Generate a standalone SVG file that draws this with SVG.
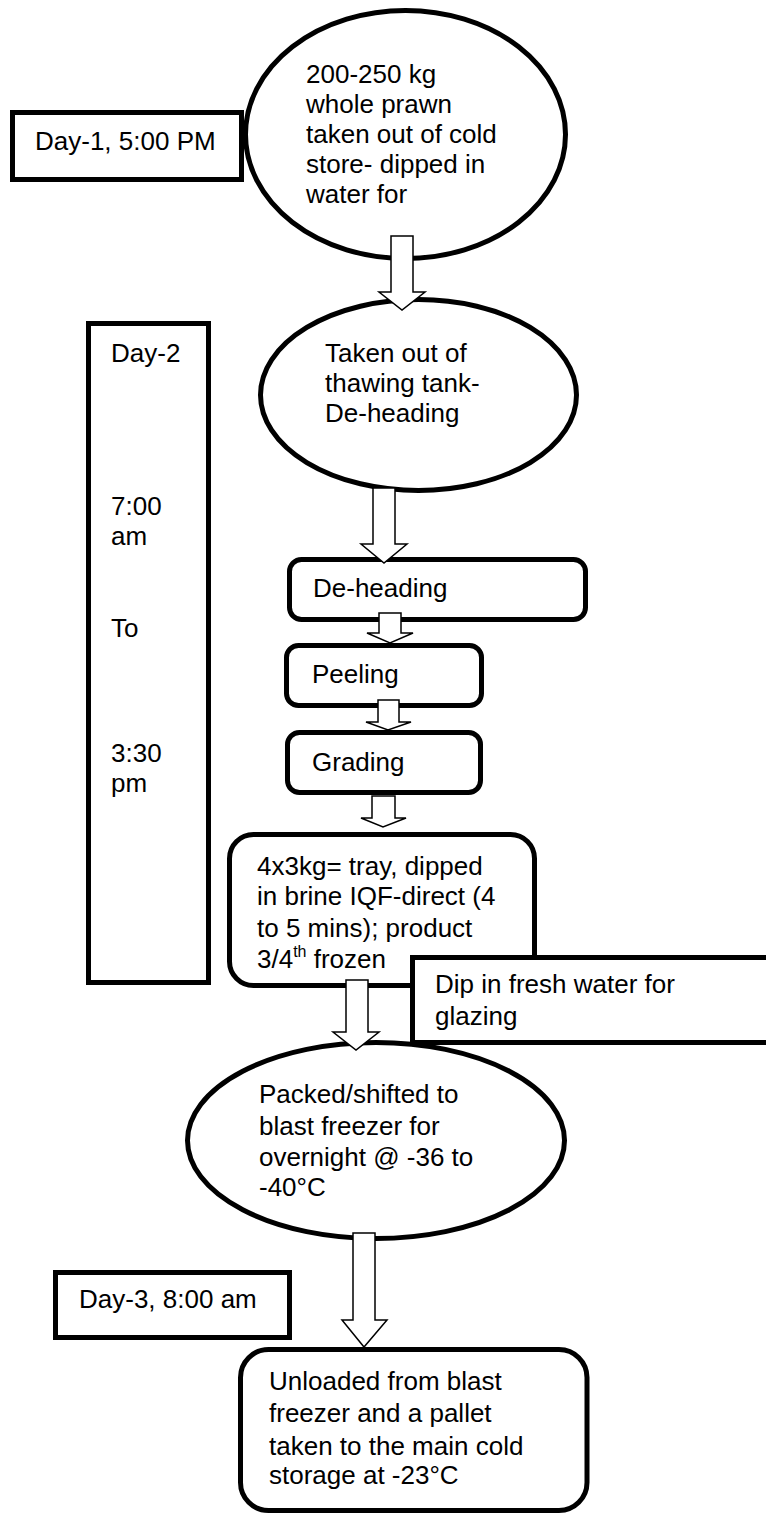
<svg xmlns="http://www.w3.org/2000/svg" width="766" height="1515" viewBox="0 0 766 1515">
<style>
.n{fill:#fff;stroke:#000;stroke-width:5}
.t{font-family:"Liberation Sans",Arial,sans-serif;font-size:26px;fill:#000}
.sup{font-size:16px}
.a{fill:#fff;stroke:#000;stroke-width:1.5;stroke-linejoin:miter}
</style>
<rect width="766" height="1515" fill="#fff"/>
<g id="nodes">
<g id="day1"><rect class="n" x="12.5" y="112.5" width="229" height="67"/><text class="t" x="35" y="150">Day-1, 5:00 PM</text></g>
<g id="n1"><ellipse class="n" cx="405.5" cy="134.5" rx="160" ry="124"/>
<text class="t" x="306" y="83">200-250 kg</text><text class="t" x="306" y="113">whole prawn</text><text class="t" x="306" y="143">taken out of cold</text><text class="t" x="306" y="173">store- dipped in</text><text class="t" x="306" y="203">water for</text></g>
<g id="day2"><rect class="n" x="88.5" y="323.5" width="120" height="659"/>
<text class="t" x="111" y="362">Day-2</text><text class="t" x="111" y="515">7:00</text><text class="t" x="111" y="545">am</text><text class="t" x="111" y="637">To</text><text class="t" x="111" y="762">3:30</text><text class="t" x="111" y="792">pm</text></g>
<g id="n2"><ellipse class="n" cx="418.5" cy="395" rx="158" ry="95.5"/>
<text class="t" x="325" y="362">Taken out of</text><text class="t" x="325" y="392">thawing tank-</text><text class="t" x="325" y="422">De-heading</text></g>
<g id="n3"><rect class="n" x="289.5" y="559.5" width="296" height="60" rx="12"/><text class="t" x="313" y="597">De-heading</text></g>
<g id="n4"><rect class="n" x="286.5" y="645.5" width="195" height="60" rx="12"/><text class="t" x="312" y="683">Peeling</text></g>
<g id="n5"><rect class="n" x="287.5" y="732.5" width="193" height="60" rx="12"/><text class="t" x="312" y="771">Grading</text></g>
<g id="n6"><rect class="n" x="229.5" y="834.5" width="305" height="151" rx="24"/>
<text class="t" x="257" y="875">4x3kg= tray, dipped</text><text class="t" x="257" y="905">in brine IQF-direct (4</text><text class="t" x="257" y="937">to 5 mins); product</text><text class="t" x="257" y="968">3/4<tspan class="sup" dy="-11">th</tspan><tspan dy="11"> frozen</tspan></text></g>
<g id="n8"><ellipse class="n" cx="376" cy="1140.5" rx="188.5" ry="98"/>
<text class="t" x="259" y="1103">Packed/shifted to</text><text class="t" x="259" y="1135">blast freezer for</text><text class="t" x="259" y="1166">overnight @ -36 to</text><text class="t" x="259" y="1196">-40°C</text></g>
<g id="n7"><rect class="n" x="412.5" y="957.5" width="400" height="85"/>
<text class="t" x="435" y="993">Dip in fresh water for</text><text class="t" x="435" y="1025">glazing</text></g>
<g id="day3"><rect class="n" x="55.5" y="1272.5" width="234" height="65"/><text class="t" x="79" y="1308">Day-3, 8:00 am</text></g>
<g id="n9"><rect class="n" x="240.5" y="1349.5" width="346.5" height="161" rx="28"/>
<text class="t" x="269" y="1390">Unloaded from blast</text><text class="t" x="269" y="1422">freezer and a pallet</text><text class="t" x="269" y="1455">taken to the main cold</text><text class="t" x="269" y="1484">storage at -23°C</text></g>
</g>
<g id="connectors">
<polygon class="a" points="391,236 413,236 413,292 425,292 402,310 379,292 391,292"/>
<polygon class="a" points="373,488 395,488 395,544 407,544 384,563 361,544 373,544"/>
<polygon class="a" points="379,613 401,613 401,633 413,633 390,643 367,633 379,633"/>
<polygon class="a" points="378,700 399,700 399,722 411,722 388,730 366,722 378,722"/>
<polygon class="a" points="372,796 395,796 395,818 406,818 383,827 361,818 372,818"/>
<polygon class="a" points="346,980 368,980 368,1032 379,1032 356,1050 333,1032 346,1032"/>
<polygon class="a" points="353,1233 375,1233 375,1320 387,1320 364,1347 342,1320 353,1320"/>
</g>
</svg>
